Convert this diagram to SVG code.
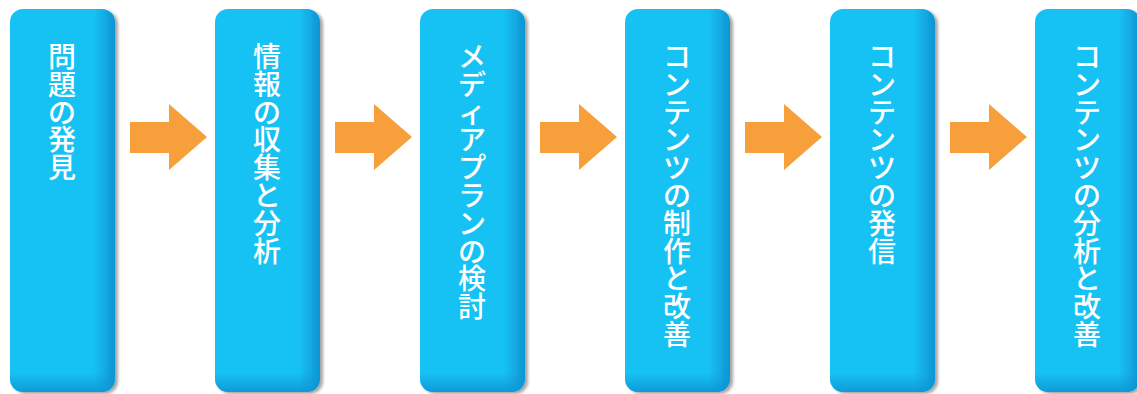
<svg xmlns="http://www.w3.org/2000/svg" width="1137" height="394" viewBox="0 0 1137 394">
<style>
.lbl{font-family:"Noto Sans CJK JP","Noto Sans CJK SC",sans-serif;font-size:28px;font-weight:500;fill:#ffffff;text-anchor:middle;dominant-baseline:central}
.arrow{fill:#F79F3B}
</style>
<defs>
<linearGradient id="gh" x1="0" y1="0" x2="1" y2="0">
<stop offset="0" stop-color="#18C1F3"/>
<stop offset="0.8" stop-color="#18C1F3"/>
<stop offset="1" stop-color="#0E94D3"/>
</linearGradient>
<linearGradient id="gv" x1="0" y1="0" x2="0" y2="1">
<stop offset="0" stop-color="#0E94D3" stop-opacity="0"/>
<stop offset="0.95" stop-color="#0E94D3" stop-opacity="0"/>
<stop offset="1" stop-color="#0E94D3" stop-opacity="0.85"/>
</linearGradient>
<filter id="sh" x="-10%" y="-5%" width="130%" height="115%">
<feDropShadow dx="3" dy="2" stdDeviation="1.8" flood-color="#000" flood-opacity="0.35"/>
</filter>
<g id="box">
<rect x="0" y="0" width="105" height="383" rx="13" fill="url(#gh)" filter="url(#sh)"/>
<rect x="0" y="0" width="105" height="383" rx="13" fill="url(#gv)"/>
</g>
<polygon id="arr" points="0,0 39,0 39,-18 77,15 39,48 39,31 0,31"/>
</defs>
<g id="connectors">
<use href="#arr" class="arrow" x="130" y="122"/>
<use href="#arr" class="arrow" x="335" y="122"/>
<use href="#arr" class="arrow" x="540" y="122"/>
<use href="#arr" class="arrow" x="745" y="122"/>
<use href="#arr" class="arrow" x="950" y="122"/>
</g>
<g id="node1">
<use href="#box" x="10" y="9"/>
<text class="lbl" x="62 62 62 62 62" y="55 82.8 110.6 138.4 166.2">問題の発見</text>
</g>
<g id="node2">
<use href="#box" x="215" y="9"/>
<text class="lbl" x="267 267 267 267 267 267 267 267" y="55 82.8 110.6 138.4 166.2 194 221.8 249.6">情報の収集と分析</text>
</g>
<g id="node3">
<use href="#box" x="420" y="9"/>
<text class="lbl" x="472 472 472 472 472 472 472 472 472 472" y="55 82.8 110.6 138.4 166.2 194 221.8 249.6 277.4 305.2">メディアプランの検討</text>
</g>
<g id="node4">
<use href="#box" x="625" y="9"/>
<text class="lbl" x="677 677 677 677 677 677 677 677 677 677 677" y="55 82.8 110.6 138.4 166.2 194 221.8 249.6 277.4 305.2 333">コンテンツの制作と改善</text>
</g>
<g id="node5">
<use href="#box" x="830" y="9"/>
<text class="lbl" x="882 882 882 882 882 882 882 882" y="55 82.8 110.6 138.4 166.2 194 221.8 249.6">コンテンツの発信</text>
</g>
<g id="node6">
<use href="#box" x="1035" y="9"/>
<text class="lbl" x="1087 1087 1087 1087 1087 1087 1087 1087 1087 1087 1087" y="55 82.8 110.6 138.4 166.2 194 221.8 249.6 277.4 305.2 333">コンテンツの分析と改善</text>
</g>
</svg>
